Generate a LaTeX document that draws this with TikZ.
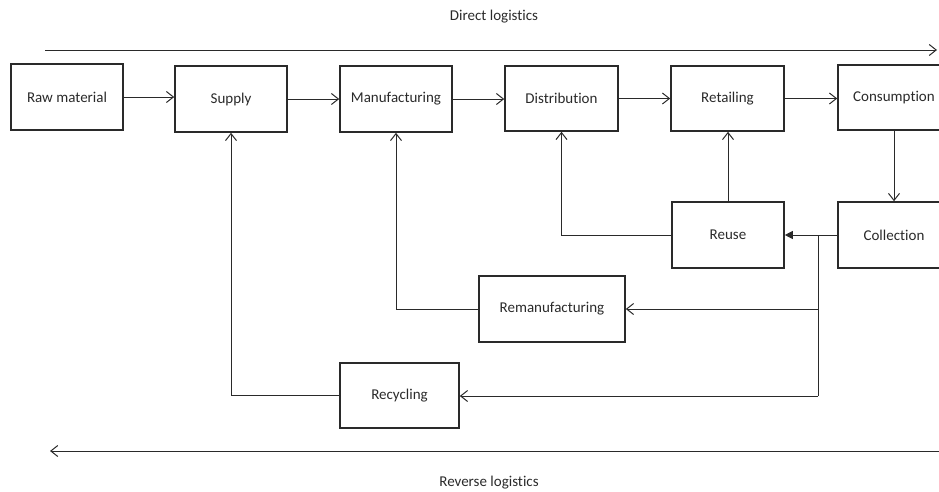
\documentclass[tikz,border=0pt]{standalone}
\usepackage{fontspec}
\setmainfont{Carlito}[Ligatures=NoCommon]
\usetikzlibrary{arrows.meta}
\definecolor{ink}{HTML}{2A2A2A}
\begin{document}
\begin{tikzpicture}[x=1pt,y=-1pt,
  box/.style={draw=ink, line width=1.6pt, minimum width=112pt, minimum height=66pt,
    inner sep=0pt, font=\fontsize{15pt}{18pt}\selectfont, text=ink},
  lbl/.style={font=\fontsize{15pt}{18pt}\selectfont, text=ink, inner sep=0pt},
  conn/.style={draw=ink, line width=1pt},
  open/.style={conn, -{Straight Barb[length=7pt,width=11pt,line width=1pt]}},
  solid tip/.style={conn, -{Triangle[length=8pt,width=8pt]}}]
\useasboundingbox (0,0) rectangle (939,491);
\clip (0,0) rectangle (939,491);
\node[lbl] (direct) at (494,17) {Direct logistics};
\node[lbl] (reverse) at (489,483) {Reverse logistics};
\coordinate (dtl) at (45,50);
\coordinate (dtr) at (937,50);
\coordinate (rvr) at (945,451);
\coordinate (rvl) at (50,451);
\draw[open] (dtl) -- (dtr);
\draw[open] (rvr) -- (rvl);

\node[box] (raw) at (67,97) {Raw material};
\node[box] (supply) at (231,99) {Supply};
\node[box] (manu) at (396,99) {Manufacturing};
\node[box, minimum width=113pt, minimum height=65pt] (dist) at (561.5,98.5) {Distribution};
\node[box, minimum width=113pt, minimum height=65pt] (retail) at (727.5,98.5) {Retailing};
\node[box, minimum height=65pt] (cons) at (894,97.5) {Consumption};
\node[box] (reuse) at (728,235) {Reuse};
\node[box] (coll) at (894,235) {Collection};
\node[box, minimum width=146pt] (reman) at (552,309) {Remanufacturing};
\node[box, minimum width=119pt, minimum height=65pt] (recyc) at (399.5,395.5) {Recycling};

\draw[open] (raw.east) -- (supply.west |- raw.east);
\draw[open] (supply.east) -- (manu.west |- supply.east);
\draw[open] (manu.east) -- (dist.west |- manu.east);
\draw[open] (dist.east) -- (retail.west |- dist.east);
\draw[open] (retail.east) -- (cons.west |- retail.east);
\draw[open] (cons.south) -- (coll.north);
\draw[solid tip] (coll.west) -- (reuse.east);
\coordinate (j) at (818,235);
\coordinate (jb) at (818,396);
\draw[conn] (j) -- (jb);
\draw[open] (j |- reman.east) -- (reman.east);
\draw[open] (jb) -- (recyc.east |- jb);
\draw[open] (reuse.north) -- (reuse.north |- retail.south);
\draw[open] (reuse.west) -- (dist.south |- reuse.west) -- (dist.south);
\draw[open] (reman.west) -- (manu.south |- reman.west) -- (manu.south);
\draw[open] (recyc.west) -- (supply.south |- recyc.west) -- (supply.south);
\end{tikzpicture}
\end{document}
